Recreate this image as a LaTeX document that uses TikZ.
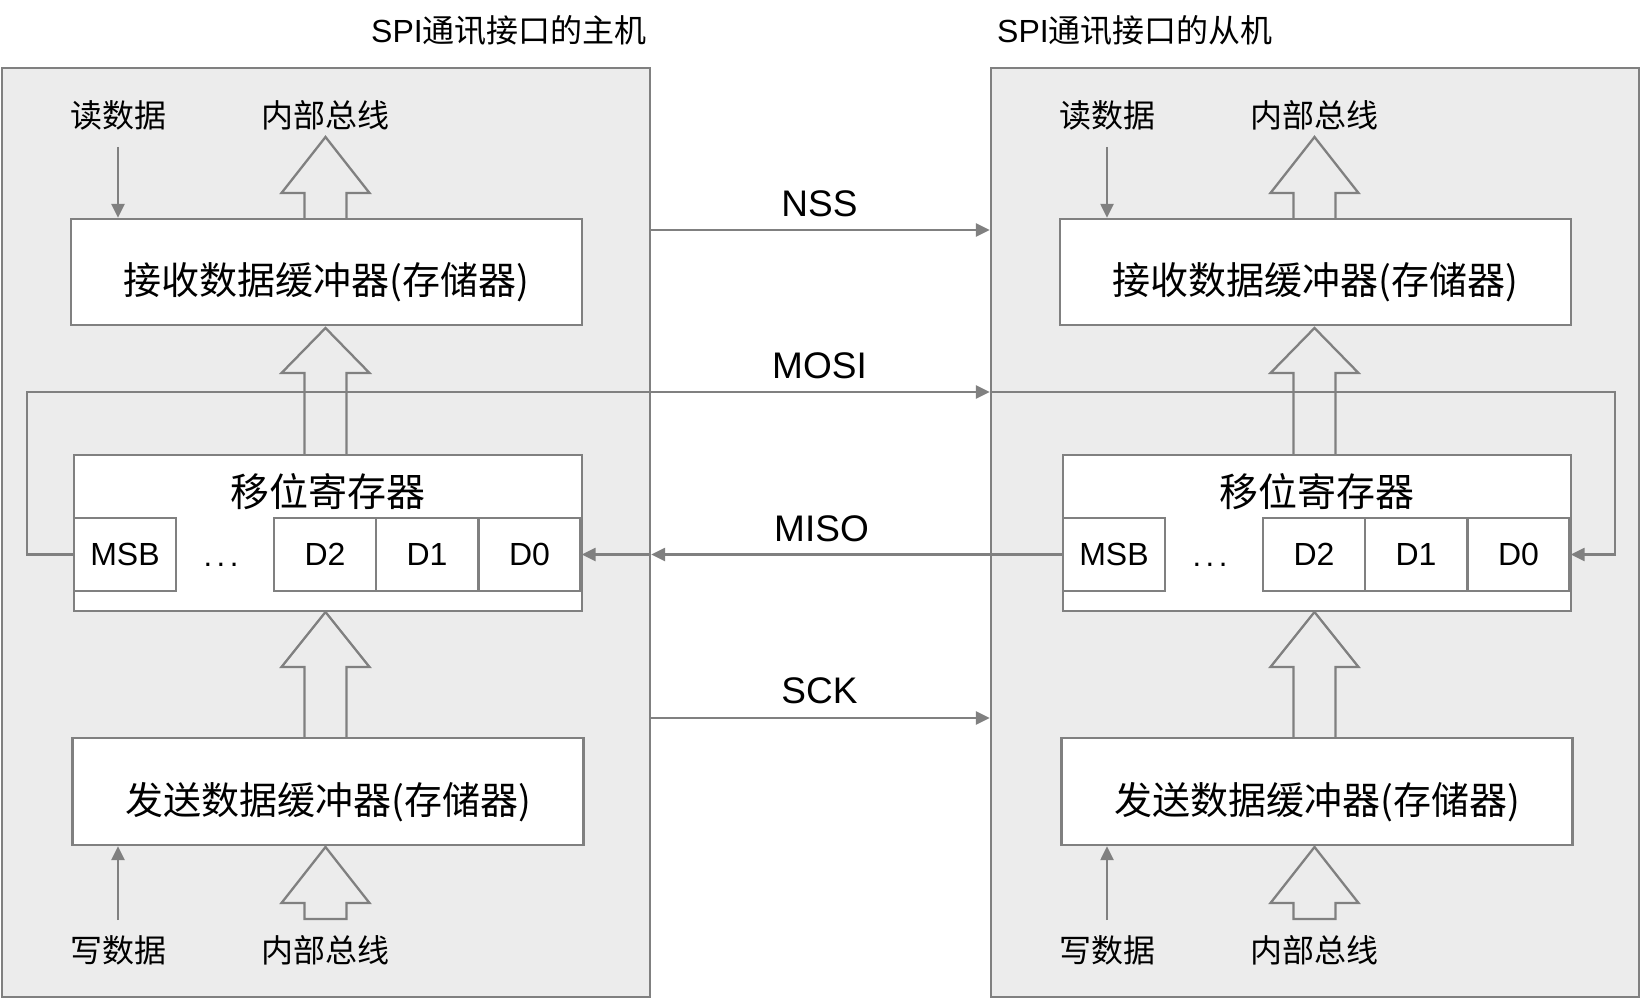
\documentclass[tikz,border=0pt]{standalone}
\usepackage{fontspec}
\setmainfont{Liberation Sans}
\newfontfamily\cjk{Noto Sans CJK SC}
\usetikzlibrary{arrows.meta}
\definecolor{lc}{HTML}{808080}
\definecolor{pf}{HTML}{ECECEC}
\tikzset{
  ln/.style={draw=lc, line width=2.3pt},
  arr/.style={ln, -{Triangle[length=14pt,width=13pt]}},
  panelbox/.style={draw=lc, fill=pf, line width=2.3pt, minimum width=648pt, minimum height=929pt, inner sep=0pt},
  buf/.style={draw=lc, fill=white, line width=2.3pt, minimum width=511pt, minimum height=106pt, inner sep=0pt, text height=46.5pt, text depth=1pt, font=\fontsize{38}{44}\selectfont\cjk},
  regbox/.style={draw=lc, fill=white, line width=2.3pt, minimum width=508pt, minimum height=156pt, inner sep=0pt},
  cell/.style={draw=lc, fill=white, line width=2.3pt, minimum width=102pt, minimum height=73pt, inner sep=0pt, font=\fontsize{32}{36}\selectfont},
  regname/.style={inner sep=0pt, font=\fontsize{39}{44}\selectfont\cjk},
  small/.style={inner sep=0pt, font=\fontsize{32}{38}\selectfont\cjk},
  ttl/.style={inner sep=0pt, font=\fontsize{32}{36}\selectfont},
  sig/.style={inner sep=0pt, font=\fontsize{37}{42}\selectfont},
  hollow/.style={draw=lc, line width=2.3pt, fill=pf, line join=miter},
}
% hollow up-arrow: x, base y, head-base y, tip y
\newcommand\hollowup[4]{%
  \draw[hollow] ({#1-21},#2) -- ({#1-21},#3) -- ({#1-44},#3) -- (#1,#4) -- ({#1+44},#3) -- ({#1+21},#3) -- ({#1+21},#2);}
\newcommand\hollowupclosed[4]{%
  \draw[hollow] ({#1-21},#2) -- ({#1-21},#3) -- ({#1-44},#3) -- (#1,#4) -- ({#1+44},#3) -- ({#1+21},#3) -- ({#1+21},#2) -- cycle;}
\newcommand\spipanel[2]{%
\begin{scope}[xshift=#2pt]
  \node[panelbox] (#1panel) at (326,532.5) {};
  \hollowup{325.5}{219}{193}{137}
  \hollowup{325.5}{455}{373}{328}
  \hollowup{325.5}{738}{667}{612}
  \hollowupclosed{325.5}{919}{903}{847}
  \node[buf] (#1recv) at (326.5,272) {接收数据缓冲器(存储器)};
  \node[regbox] (#1reg) at (328,533) {};
  \node[regname] (#1regname) at (328,492) {移位寄存器};
  \node[cell] (#1MSB) at (125,554.5) {MSB};
  \node[inner sep=0pt, font=\fontsize{31}{36}\selectfont] (#1dots) at (221,565) {.\kern4.5pt.\kern4.5pt.};
  \node[cell] (#1D2) at (325,554.5) {D2};
  \node[cell] (#1D1) at (427,554.5) {D1};
  \node[cell] (#1D0) at (529.5,554.5) {D0};
  \node[buf, minimum height=107pt] (#1send) at (328,791.5) {发送数据缓冲器(存储器)};
  \node[small] (#1rd) at (118,115) {读数据};
  \node[small] (#1busin) at (325.5,115) {内部总线};
  \node[small] (#1wr) at (118,950) {写数据};
  \node[small] (#1busout) at (325.5,950) {内部总线};
  \coordinate (#1rdtail) at (118,147);
  \draw[arr] (#1rdtail) -- (#1rdtail |- #1recv.north);
  \coordinate (#1wrtail) at (118,920);
  \draw[arr] (#1wrtail) -- (#1wrtail |- #1send.south);
\end{scope}}
\begin{document}
\begin{tikzpicture}[x=1pt,y=-1pt]
\useasboundingbox (0,0) rectangle (1641,1000);
\fill[white] (0,0) rectangle (1641,1000);
\node[ttl] (ltitle) at (509,31) {SPI{\cjk 通讯接口的主机}};
\node[ttl] (rtitle) at (1135,31) {SPI{\cjk 通讯接口的从机}};
\spipanel{l}{0}
\spipanel{r}{989}
% NSS
\coordinate (nss) at (650,230);
\draw[arr] (lpanel.east |- nss) -- (rpanel.west |- nss);
\node[sig] (nsslbl) at (819.5,204) {NSS};
% MOSI
\coordinate (mosiC) at (27,392);
\coordinate (mosiR) at (1615,392);
\draw[arr] (lMSB.west) -| (mosiC) -- (rpanel.west |- mosiC);
\draw[arr] (rpanel.west |- mosiC) -- (mosiR) |- (rD0.east);
\node[sig] (mosilbl) at (819.5,366) {MOSI};
% MISO
\draw[arr] (rMSB.west) -- (lpanel.east |- rMSB.west);
\draw[arr] (lpanel.east |- rMSB.west) -- (lD0.east);
\node[sig] (misolbl) at (821.5,528.5) {MISO};
% SCK
\coordinate (sck) at (650,718);
\draw[arr] (lpanel.east |- sck) -- (rpanel.west |- sck);
\node[sig] (scklbl) at (819.5,691) {SCK};
\end{tikzpicture}
\end{document}
